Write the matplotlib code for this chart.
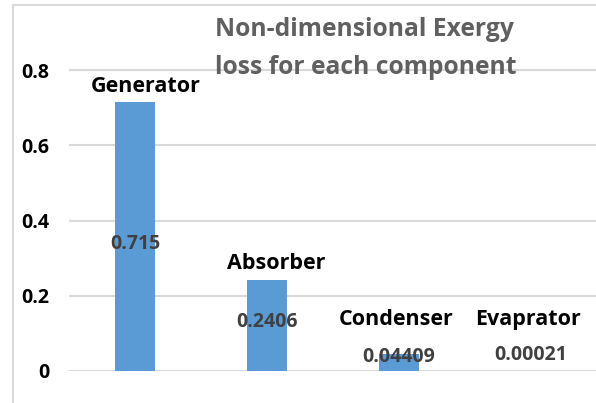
import matplotlib
matplotlib.use("Agg")
import matplotlib.pyplot as plt
from matplotlib.lines import Line2D

categories = ["Generator", "Absorber", "Condenser", "Evaprator"]
values = [0.715, 0.2406, 0.04409, 0.00021]
value_labels = ["0.715", "0.2406", "0.04409", "0.00021"]
yticks = [0, 0.2, 0.4, 0.6, 0.8]
ytick_labels = ["0", "0.2", "0.4", "0.6", "0.8"]

# label placement (data-y) - styling
cat_label_y = [0.755, 0.287, 0.136, 0.136]
cat_label_dx = [0.08, 0.07, -0.02, -0.02]
val_label_y = [0.338, 0.130, 0.037, 0.0425]

FONT = ["Open Sans", "DejaVu Sans"]
W, H = 596, 403
fig = plt.figure(figsize=(W / 100, H / 100), dpi=100)

ax_left = 69 / W
ax_bottom = (H - 371) / H
ax_w = (597 - 69) / W
ax_h = 366 / H
ax = fig.add_axes([ax_left, ax_bottom, ax_w, ax_h])
ax.set_xlim(-0.5, len(categories) - 0.5)
ax.set_ylim(0, 366 / 376.25)

x = list(range(len(categories)))
ax.bar(x, values, width=0.31, color="#5B9BD5", zorder=3)

for yv in yticks:
    ax.axhline(yv, color="#D9D9D9", lw=1.5, zorder=1)

for s in ax.spines.values():
    s.set_visible(False)
ax.set_xticks([])
ax.set_yticks(yticks)
ax.set_yticklabels(ytick_labels, fontsize=14, fontweight="bold", family=FONT)
ax.tick_params(axis="y", length=0, pad=14)

for i, c in enumerate(categories):
    ax.text(i + cat_label_dx[i], cat_label_y[i], c, ha="center", va="center",
            fontsize=15.5, fontweight="bold", family=FONT, color="black", zorder=5)
    ax.text(i, val_label_y[i], value_labels[i], ha="center", va="center",
            fontsize=14, fontweight="bold", family=FONT, color="#404040", zorder=5)

fig.text(215 / W, 1 - 30 / H, "Non-dimensional Exergy", ha="left", va="center",
         fontsize=17.7, fontweight="bold", family=FONT, color="#606060")
fig.text(215 / W, 1 - 67 / H, "loss for each component", ha="left", va="center",
         fontsize=17.7, fontweight="bold", family=FONT, color="#606060")

# chart frame (light gray)
fig.add_artist(Line2D([13 / W, 1], [1 - 5 / H, 1 - 5 / H], color="#D9D9D9", lw=1.5,
                      transform=fig.transFigure))
fig.add_artist(Line2D([13 / W, 13 / W], [0, 1 - 5 / H], color="#D9D9D9", lw=1.5,
                      transform=fig.transFigure))

fig.savefig("out.png", dpi=100)
